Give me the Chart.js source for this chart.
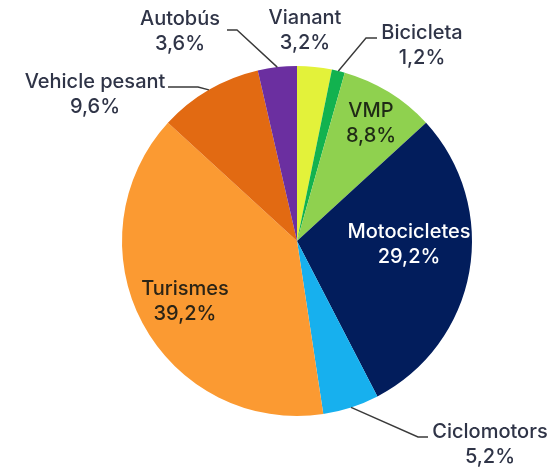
<!DOCTYPE html>
<html>
<head>
<meta charset="utf-8">
<script src="https://cdn.jsdelivr.net/npm/chart.js@4/dist/chart.umd.min.js"></script>
<style>
  html, body { margin: 0; padding: 0; background: #ffffff; }
  #wrap { width: 552px; height: 468px; position: relative; }
</style>
</head>
<body>
<div id="wrap"><canvas id="c" width="552" height="468"></canvas></div>
<script>
// Share of victims by mode of transport (%), clockwise from 12 o'clock
const categories = ['Vianant', 'Bicicleta', 'VMP', 'Motocicletes', 'Ciclomotors', 'Turismes', 'Vehicle pesant', 'Autobús'];
const shares = [3.2, 1.2, 8.8, 29.2, 5.2, 39.2, 9.6, 3.6];
const sliceColors = ['#e3f23a', '#12b24f', '#8fd14f', '#021d5c', '#17b0ee', '#fb9a32', '#e26a12', '#6b2fa0'];

// Label placement: text centre x and first-line baseline y,
// and for outside labels the leader elbow and end point
const labelLayout = [
  { x: 305, y: 24, color: '#2f3447' },                                      // Vianant
  { x: 422, y: 39, color: '#2f3447', elbow: [366, 38], end: [377, 38] },    // Bicicleta
  { x: 371, y: 117, color: '#1f2a16' },                                     // VMP
  { x: 409, y: 238, color: '#ffffff' },                                     // Motocicletes
  { x: 490, y: 438, color: '#2f3447', elbow: [418, 437], end: [428, 437] }, // Ciclomotors
  { x: 185, y: 295, color: '#2b2416' },                                     // Turismes
  { x: 95, y: 88, color: '#2f3447', elbow: [198, 87], end: [168, 87] },     // Vehicle pesant
  { x: 180, y: 25, color: '#2f3447', elbow: [237, 30], end: [227, 30] }     // Autobús
];

const fmt = v => v.toFixed(1).replace('.', ',') + '%';

const pieLabels = {
  id: 'pieLabels',
  afterDatasetsDraw(chart) {
    const ctx = chart.ctx;
    const arcs = chart.getDatasetMeta(0).data;
    ctx.save();
    arcs.forEach((arc, i) => {
      const L = labelLayout[i];
      const p = arc.getProps(['x', 'y', 'startAngle', 'endAngle', 'outerRadius'], true);
      if (L.elbow) {
        const mid = (p.startAngle + p.endAngle) / 2;
        const ax = p.x + Math.cos(mid) * p.outerRadius;
        const ay = p.y + Math.sin(mid) * p.outerRadius;
        ctx.beginPath();
        ctx.moveTo(ax, ay);
        ctx.lineTo(L.elbow[0], L.elbow[1]);
        ctx.lineTo(L.end[0], L.end[1]);
        ctx.strokeStyle = '#3a3a3a';
        ctx.lineWidth = 1.4;
        ctx.stroke();
      }
      ctx.fillStyle = L.color;
      ctx.font = '500 20px Inter, "Noto Sans", sans-serif';
      ctx.textAlign = 'center';
      ctx.textBaseline = 'alphabetic';
      ctx.fillText(categories[i], L.x, L.y);
      ctx.fillText(fmt(shares[i]), L.x, L.y + 25);
    });
    ctx.restore();
  }
};

new Chart(document.getElementById('c'), {
  type: 'pie',
  data: {
    labels: categories,
    datasets: [{
      data: shares,
      backgroundColor: sliceColors,
      borderWidth: 0
    }]
  },
  options: {
    responsive: false,
    animation: false,
    layout: { padding: { top: 66, bottom: 52, left: 122, right: 80 } },
    plugins: {
      legend: { display: false },
      tooltip: { enabled: false }
    }
  },
  plugins: [pieLabels]
});
</script>
</body>
</html>
